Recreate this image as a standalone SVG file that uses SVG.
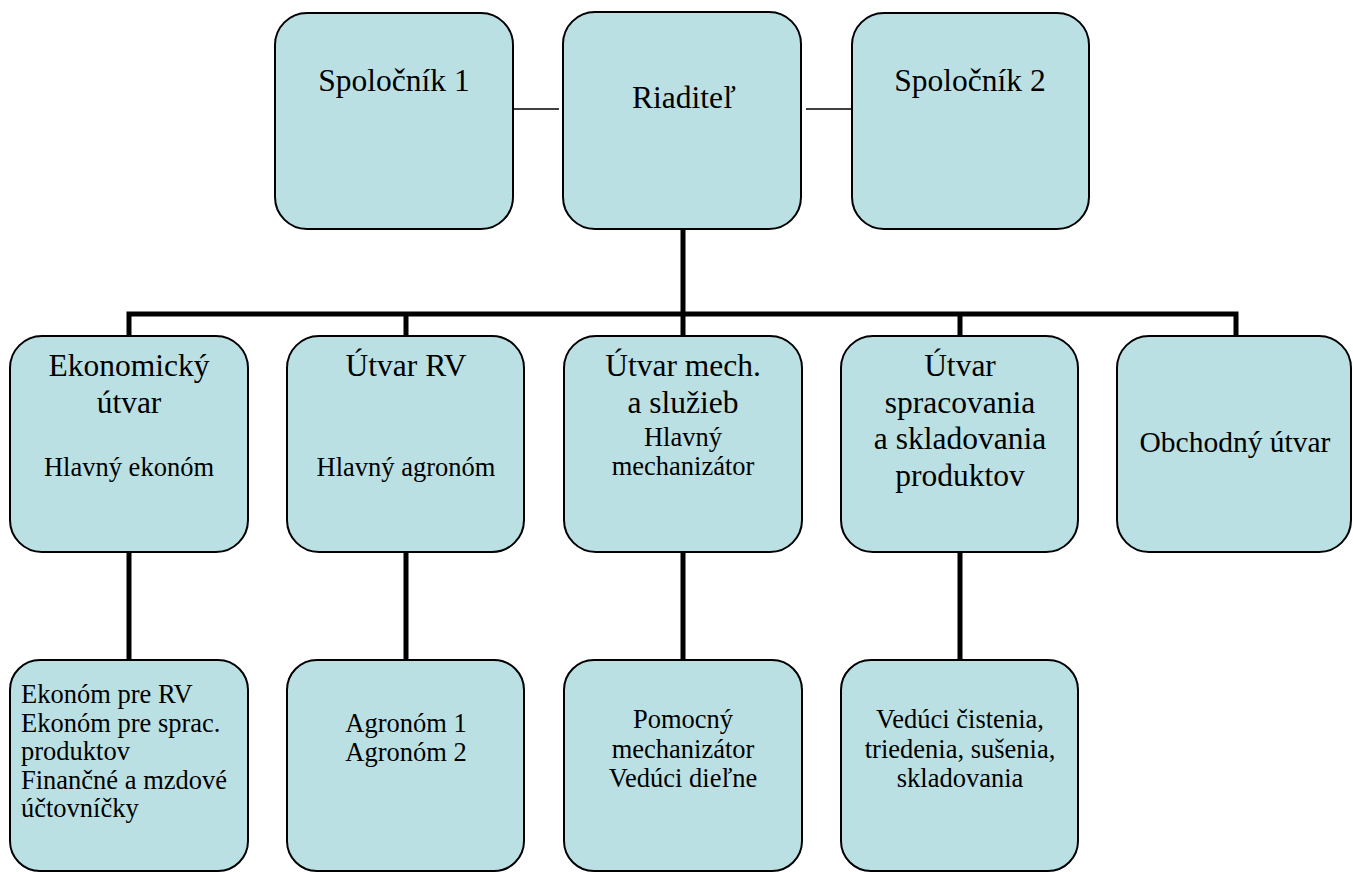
<svg xmlns="http://www.w3.org/2000/svg" width="1353" height="872" viewBox="0 0 1353 872" font-family="'Liberation Serif', 'Times New Roman', serif">
<style>
.box{fill:#BBE0E3;stroke:#000;stroke-width:2}
text{font-family:'Liberation Serif', 'Times New Roman', serif;fill:#000;text-anchor:middle}
.big{font-size:31.5px}
.sm{font-size:26.5px}
.st{text-anchor:start}
.thick{stroke:#000;stroke-width:5;fill:none;stroke-linecap:butt}
.thin{stroke:#000;stroke-width:1.5;fill:none}
</style>
<rect width="1353" height="872" fill="#fff"/>
<g id="connectors">
<line class="thin" x1="511" y1="109" x2="559" y2="109"/>
<line class="thin" x1="806" y1="109" x2="852" y2="109"/>
<line class="thick" x1="683" y1="229" x2="683" y2="314"/>
<polyline class="thick" points="129,336 129,314 1236,314 1236,336"/>
<line class="thick" x1="406" y1="314" x2="406" y2="336"/>
<line class="thick" x1="683" y1="314" x2="683" y2="336"/>
<line class="thick" x1="960" y1="314" x2="960" y2="336"/>
<line class="thick" x1="129" y1="552" x2="129" y2="660"/>
<line class="thick" x1="406" y1="552" x2="406" y2="660"/>
<line class="thick" x1="683" y1="552" x2="683" y2="660"/>
<line class="thick" x1="960" y1="552" x2="960" y2="660"/>
</g>
<g id="spolocnik1">
<rect class="box" x="275" y="13" width="238" height="216" rx="32"/>
<text class="big" x="394" y="91">Spoločník 1</text>
</g>
<g id="riaditel">
<rect class="box" x="563" y="12" width="238" height="217" rx="32"/>
<text class="big" x="684" y="108">Riaditeľ</text>
</g>
<g id="spolocnik2">
<rect class="box" x="852" y="13" width="237" height="216" rx="32"/>
<text class="big" x="970" y="91">Spoločník 2</text>
</g>
<g id="ekonomicky">
<rect class="box" x="10" y="336" width="238" height="216" rx="32"/>
<text class="big" x="129" y="376">Ekonomický</text>
<text class="big" x="129" y="413">útvar</text>
<text class="sm" x="129" y="476">Hlavný ekonóm</text>
</g>
<g id="utvar-rv">
<rect class="box" x="287" y="336" width="237" height="216" rx="32"/>
<text class="big" x="406" y="376">Útvar RV</text>
<text class="sm" x="406" y="476">Hlavný agronóm</text>
</g>
<g id="utvar-mech">
<rect class="box" x="564" y="336" width="238" height="216" rx="32"/>
<text class="big" x="683" y="376">Útvar mech.</text>
<text class="big" x="683" y="413">a služieb</text>
<text class="sm" x="683" y="446">Hlavný</text>
<text class="sm" x="683" y="475">mechanizátor</text>
</g>
<g id="utvar-sprac">
<rect class="box" x="841" y="336" width="237" height="216" rx="32"/>
<text class="big" x="960" y="376">Útvar</text>
<text class="big" x="960" y="413">spracovania</text>
<text class="big" x="960" y="449">a skladovania</text>
<text class="big" x="960" y="486">produktov</text>
</g>
<g id="obchodny">
<rect class="box" x="1117" y="336" width="234" height="216" rx="32"/>
<text style="font-size:29.5px" x="1235" y="452">Obchodný útvar</text>
</g>
<g id="ekonomovia">
<rect class="box" x="10" y="660" width="238" height="211" rx="30"/>
<text class="sm st" x="21" y="703">Ekonóm pre RV</text>
<text class="sm st" x="21" y="731.5">Ekonóm pre sprac.</text>
<text class="sm st" x="21" y="760">produktov</text>
<text class="sm st" x="21" y="788.5">Finančné a mzdové</text>
<text class="sm st" x="21" y="817">účtovníčky</text>
</g>
<g id="agronomovia">
<rect class="box" x="287" y="660" width="237" height="211" rx="30"/>
<text class="sm" x="406" y="732">Agronóm 1</text>
<text class="sm" x="406" y="761">Agronóm 2</text>
</g>
<g id="pomocny">
<rect class="box" x="564" y="660" width="238" height="211" rx="30"/>
<text class="sm" x="683" y="728">Pomocný</text>
<text class="sm" x="683" y="757.5">mechanizátor</text>
<text class="sm" x="683" y="787">Vedúci dieľne</text>
</g>
<g id="veduci">
<rect class="box" x="841" y="660" width="237" height="211" rx="30"/>
<text class="sm" x="960" y="728">Vedúci čistenia,</text>
<text class="sm" x="960" y="757.5">triedenia, sušenia,</text>
<text class="sm" x="960" y="787">skladovania</text>
</g>
</svg>
